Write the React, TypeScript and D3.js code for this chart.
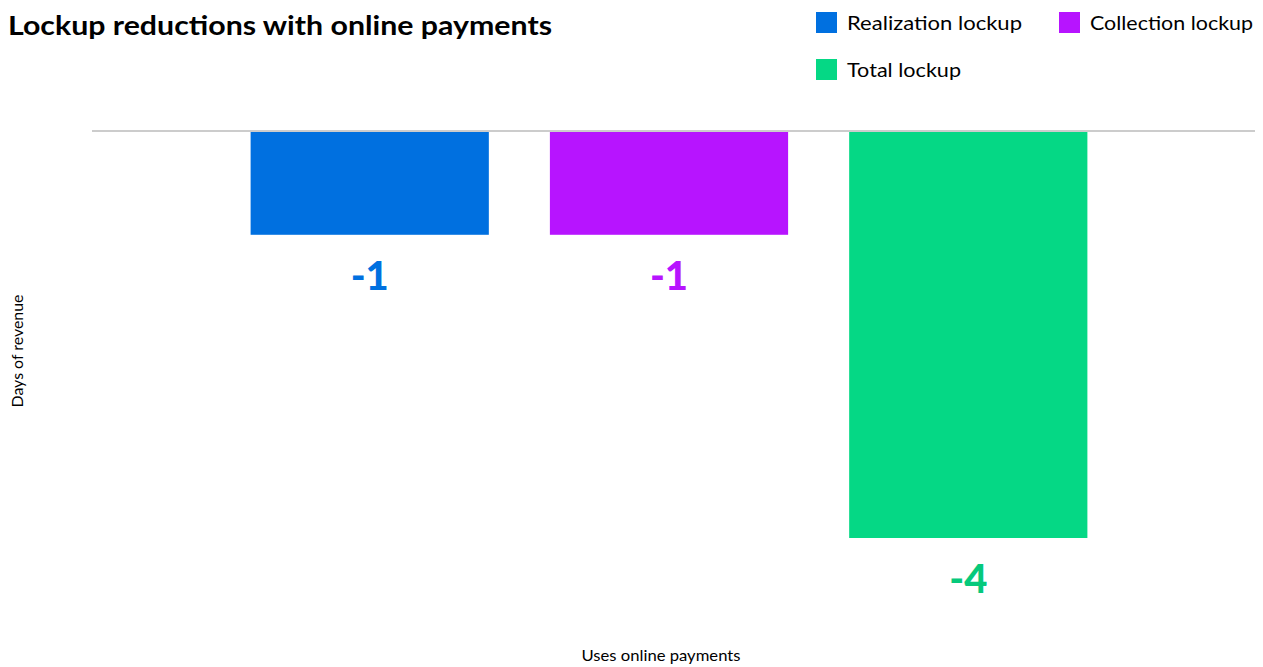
import React from "react";
import * as d3 from "d3";

const categories = ["Realization lockup", "Collection lockup", "Total lockup"];
const values = [-1.02, -1.02, -4.0];
const labels = ["-1", "-1", "-4"];
const colors = ["#0070E0", "#B714FF", "#05D885"];
const labelColors = ["#0070E0", "#B714FF", "#06C97C"];

const W = 1263;
const H = 667;
const FONT = "Lato, 'Open Sans', sans-serif";

export default function App() {
  const x = d3
    .scaleBand<string>()
    .domain(categories)
    .range([92, 1246])
    .paddingInner(0.204)
    .paddingOuter(0.53);
  const y = d3.scaleLinear().domain([-4, 0]).range([538, 131]);

  const legend = [
    { x: 816, y: 12, len: 175 },
    { x: 1059, y: 12, len: 163 },
    { x: 816, y: 59, len: 114 },
  ];

  return (
    <svg
      width={W}
      height={H}
      style={{ position: "absolute", left: 0, top: 0, fontFamily: FONT }}
    >
      <rect width={W} height={H} fill="#fff" />
      <text x={8} y={35} fontSize={27} fontWeight={700} fill="#000" textLength={544} lengthAdjust="spacingAndGlyphs">
        Lockup reductions with online payments
      </text>
      {categories.map((c, i) => (
        <g key={c}>
          <rect x={legend[i].x} y={legend[i].y} width={21} height={21} fill={colors[i]} />
          <text
            x={legend[i].x + 31}
            y={legend[i].y + 18}
            fontSize={20}
            fill="#000"
            textLength={legend[i].len}
            lengthAdjust="spacingAndGlyphs"
          >
            {c}
          </text>
        </g>
      ))}
      {categories.map((c, i) => {
        const v = values[i];
        const y0 = y(0) + 1;
        const y1 = y(v);
        return (
          <g key={c + "bar"}>
            <rect x={x(c)} y={y0} width={x.bandwidth()} height={y1 - y0} fill={colors[i]} />
            <text
              x={(x(c) as number) + x.bandwidth() / 2}
              y={y1 + 55}
              textAnchor="middle"
              fontSize={40}
              fontWeight={900}
              fill={labelColors[i]}
            >
              {labels[i]}
            </text>
          </g>
        );
      })}
      <line x1={92} x2={1255} y1={y(0)} y2={y(0)} stroke="#bbbbbb" strokeWidth={1.5} />
      <text
        transform="translate(23,351) rotate(-90)"
        textAnchor="middle"
        fontSize={15}
        fill="#000"
        textLength={113}
        lengthAdjust="spacingAndGlyphs"
      >
        Days of revenue
      </text>
      <text
        x={661}
        y={661}
        textAnchor="middle"
        fontSize={15}
        fill="#000"
        textLength={159}
        lengthAdjust="spacingAndGlyphs"
      >
        Uses online payments
      </text>
    </svg>
  );
}
